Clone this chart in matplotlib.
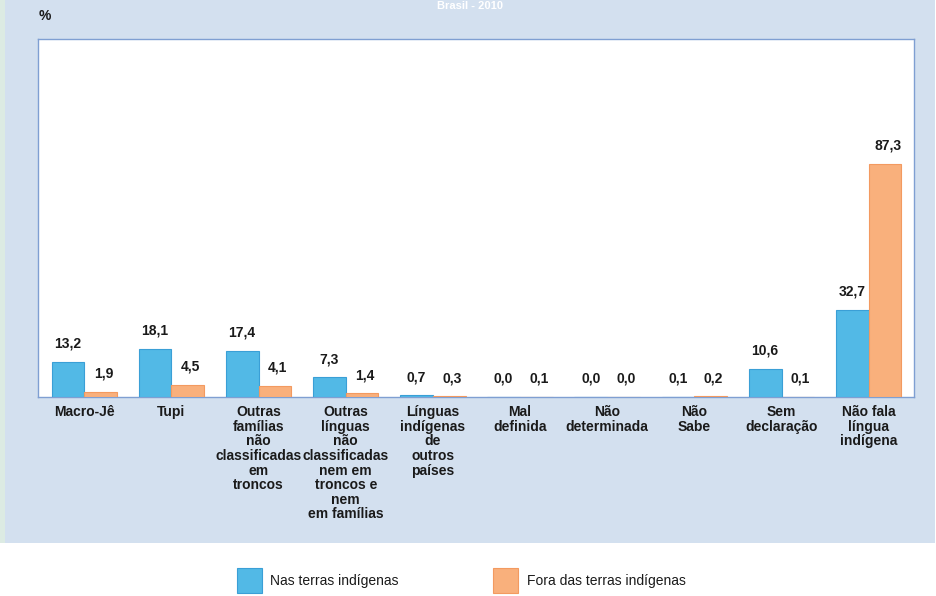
import matplotlib
matplotlib.use("Agg")
import matplotlib.pyplot as plt
from matplotlib.patches import Rectangle
import numpy as np

categories = [
    "Macro-Jê",
    "Tupi",
    "Outras\nfamílias\nnão\nclassificadas\nem\ntroncos",
    "Outras\nlínguas\nnão\nclassificadas\nnem em\ntroncos e\nnem\nem famílias",
    "Línguas\nindígenas\nde\noutros\npaíses",
    "Mal\ndefinida",
    "Não\ndeterminada",
    "Não\nSabe",
    "Sem\ndeclaração",
    "Não fala\nlíngua\nindígena",
]
nas_terras = [13.2, 18.1, 17.4, 7.3, 0.7, 0.0, 0.0, 0.1, 10.6, 32.7]
fora_terras = [1.9, 4.5, 4.1, 1.4, 0.3, 0.1, 0.0, 0.2, 0.1, 87.3]
series_names = ["Nas terras indígenas", "Fora das terras indígenas"]

BLUE = "#52b9e6"
BLUE_EDGE = "#3a9fd6"
ORANGE = "#f9b07c"
ORANGE_EDGE = "#f39a60"
PANEL = "#d3e0ef"
TXT = "#1a1a1a"

plt.rcParams["font.family"] = ["Liberation Sans", "DejaVu Sans"]

W, H = 936, 596
fig = plt.figure(figsize=(W / 100, H / 100), dpi=100)
fig.patch.set_facecolor("white")

# light blue panel
fig.patches.append(Rectangle((5 / W, (H - 543) / H), (935 - 5) / W, 543 / H,
                             transform=fig.transFigure, facecolor=PANEL,
                             edgecolor="none", zorder=-10))
# thin greenish strip at left
fig.patches.append(Rectangle((0, (H - 543) / H), 5 / W, 543 / H,
                             transform=fig.transFigure, facecolor="#dcebe3",
                             edgecolor="none", zorder=-10))

ax_l, ax_r, ax_t, ax_b = 38, 914, 39, 397
ax = fig.add_axes([ax_l / W, (H - ax_b) / H, (ax_r - ax_l) / W, (ax_b - ax_t) / H])
ax.set_zorder(5)
ax.set_facecolor("white")

x = np.arange(len(categories))
bw = 0.375
ax.bar(x - bw / 2, nas_terras, bw, color=BLUE, edgecolor=BLUE_EDGE, linewidth=0.8, zorder=3)
ax.bar(x + bw / 2, fora_terras, bw, color=ORANGE, edgecolor=ORANGE_EDGE, linewidth=0.8, zorder=3)

ax.set_xlim(-0.53, 9.52)
ax.set_ylim(0, 134)

for s in ["top", "right", "left", "bottom"]:
    ax.spines[s].set_color("#7f9fd2")
    ax.spines[s].set_linewidth(1.0)
ax.set_xticks([])
ax.set_yticks([])

def fmt(v):
    return f"{v:.1f}".replace(".", ",")

for xi, v in zip(x - bw / 2, nas_terras):
    ax.annotate(fmt(v), (xi, v), xytext=(0, 8), textcoords="offset points",
                ha="center", va="bottom", fontsize=10, color=TXT, fontweight="bold")
for xi, v in zip(x + bw / 2, fora_terras):
    ax.annotate(fmt(v), (xi, v), xytext=(2, 8), textcoords="offset points",
                ha="center", va="bottom", fontsize=10, color=TXT, fontweight="bold")

for xi, lab in zip(x, categories):
    ax.annotate(lab, (xi, 0), xytext=(0, -6), textcoords="offset points",
                ha="center", va="top", fontsize=10, color=TXT, fontweight="bold",
                linespacing=1.05, annotation_clip=False)

fig.text(45 / W, 1 - 16 / H, "%", ha="center", va="center", fontsize=10,
         color=TXT, fontweight="bold")
fig.text(470 / W, 1 - 1 / H, "Brasil - 2010", ha="center", va="top",
         fontsize=8, color="white", fontweight="bold")

# legend
for (lx, tx, col, ec, name) in [(237, 270, BLUE, BLUE_EDGE, series_names[0]),
                                (493, 527, ORANGE, ORANGE_EDGE, series_names[1])]:
    fig.patches.append(Rectangle((lx / W, (H - 593) / H), 25 / W, 25 / H,
                                 transform=fig.transFigure, facecolor=col,
                                 edgecolor=ec, linewidth=0.8))
    fig.text(tx / W, 1 - 581 / H, name, ha="left", va="center", fontsize=10, color=TXT)

fig.savefig("out.png", dpi=100, facecolor=fig.get_facecolor())
